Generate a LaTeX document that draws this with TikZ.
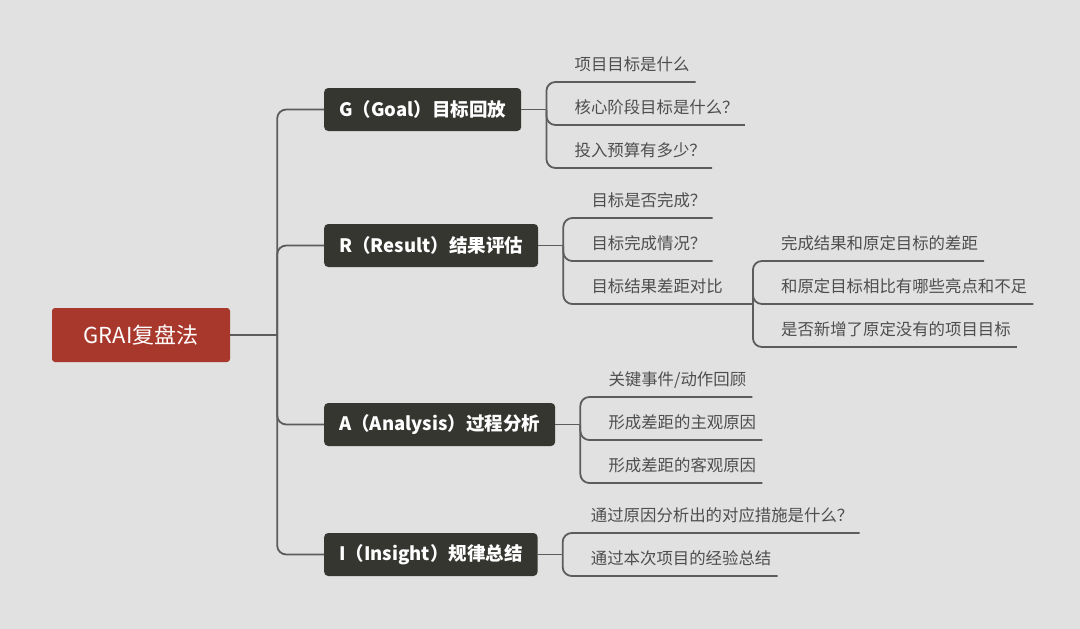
\documentclass[tikz,border=0pt]{standalone}
\usepackage{fontspec}
\setmainfont{Noto Sans CJK SC}
\definecolor{bggray}{HTML}{E1E1E1}
\definecolor{rootred}{HTML}{A8382B}
\definecolor{boxdark}{HTML}{363631}
\definecolor{linegray}{HTML}{5C5C5C}
\definecolor{leafgray}{HTML}{4E4E4E}
\begin{document}
\begin{tikzpicture}[x=1pt, y=-1pt,
  root/.style = {shape=rectangle, rounded corners=3pt, fill=rootred,
    text=white, minimum width=178pt, minimum height=54pt,
    font=\fontsize{22}{24}\selectfont},
  topic/.style = {shape=rectangle, rounded corners=4pt, fill=boxdark,
    text=white, anchor=west, inner xsep=15pt, minimum height=43pt,
    font=\fontsize{18.5}{20}\selectfont\bfseries},
  leaf/.style = {anchor=south west, inner xsep=0pt, inner ysep=7.5pt,
    text depth=4pt, text=leafgray, font=\fontsize{16.4}{18}\selectfont},
  link/.style = {draw=linegray, line width=1.8pt, rounded corners=9pt}]
 \fill[bggray] (0,0) rectangle (1080,629);
 \useasboundingbox (0,0) rectangle (1080,629);

 % root and the four topics
 \node[root] (grai) at (141,335) {GRAI复盘法};
 \node[topic] (g) at (324,109.5) {G（Goal）目标回放};
 \node[topic] (r) at (324,245.5) {R（Result）结果评估};
 \node[topic] (a) at (324,424.5) {A（Analysis）过程分析};
 \node[topic] (i) at (324,554.5) {I（Insight）规律总结};

 \coordinate (tJ) at ([xshift=47pt]grai.east);
 \draw[link] (grai.east) -- (tJ);
 \foreach \t in {g,r,a,i}
   \draw[link] (tJ) |- (\t.west);

 \foreach \t in {g,r,a,i} {
   \coordinate (\t J) at ([xshift=25pt]\t.east);
   \draw[link] (\t.east) -- (\t J);
 }

 % leaves
 \foreach \n/\dy/\txt in {1/-27.5/项目目标是什么, 2/15.5/核心阶段目标是什么？,
     3/58.5/投入预算有多少？}
   \node[leaf] (g\n) at ([shift={(28,\dy)}]gJ) {\txt};
 \foreach \n/\dy/\txt in {1/-27.5/目标是否完成？, 2/15.5/目标完成情况？,
     3/58.5/目标结果差距对比}
   \node[leaf] (r\n) at ([shift={(28,\dy)}]rJ) {\txt};
 \foreach \n/\dy/\txt in {1/-27.5/{关键事件/动作回顾}, 2/15.5/形成差距的主观原因,
     3/58.5/形成差距的客观原因}
   \node[leaf] (a\n) at ([shift={(28,\dy)}]aJ) {\txt};
 \foreach \n/\dy/\txt in {1/-21.5/通过原因分析出的对应措施是什么？,
     2/21.5/通过本次项目的经验总结}
   \node[leaf] (i\n) at ([shift={(28,\dy)}]iJ) {\txt};

 \foreach \n in {1,2,3} {
   \draw[link] (gJ) |- ([xshift=6pt]g\n.south east);
   \draw[link] (aJ) |- ([xshift=6pt]a\n.south east);
 }
 \foreach \n in {1,2}
   \draw[link] (rJ) |- ([xshift=6pt]r\n.south east);
 \foreach \n in {1,2}
   \draw[link] (iJ) |- ([xshift=6pt]i\n.south east);

 % sub-branch of the third result leaf
 \coordinate (rK) at ([xshift=30pt]r3.south east);
 \draw[link] (rJ) |- (rK);
 \foreach \n/\dy/\txt in {1/-43/完成结果和原定目标的差距, 2/0/和原定目标相比有哪些亮点和不足,
     3/43/是否新增了原定没有的项目目标}
   \node[leaf] (rs\n) at ([shift={(28,\dy)}]rK) {\txt};
 \foreach \n in {1,2,3}
   \draw[link] (rK) |- ([xshift=6pt]rs\n.south east);
\end{tikzpicture}
\end{document}
